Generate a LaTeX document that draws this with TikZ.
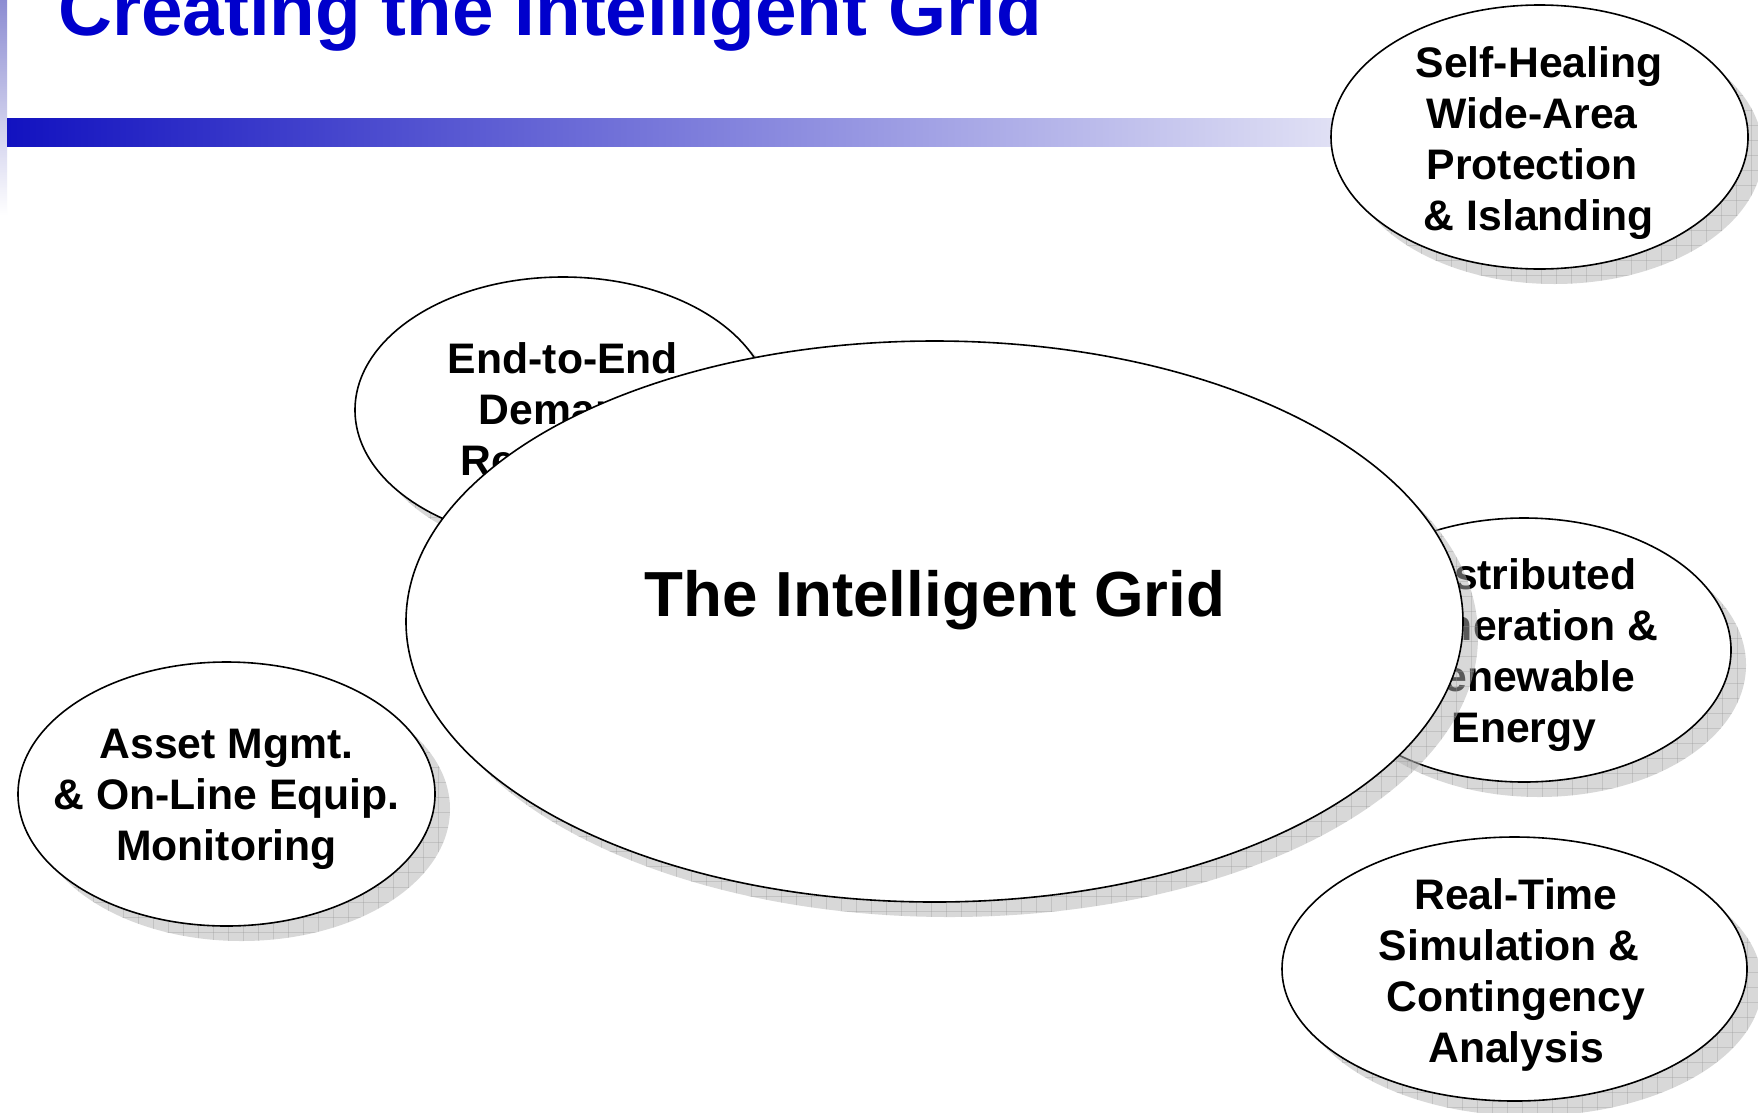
\documentclass[tikz,border=0pt]{standalone}
\usepackage{fontspec}
\setmainfont{Liberation Sans}
\usetikzlibrary{shapes.geometric}
\definecolor{titleblue}{RGB}{0,0,204}
\definecolor{barstart}{RGB}{18,18,192}
\definecolor{barend}{RGB}{238,238,248}
\definecolor{sidetop}{RGB}{140,140,210}
\tikzset{
  bubble/.style={ellipse, draw=black, line width=1.6pt, fill=white, inner sep=0pt},
  bubbletext/.style={align=center, inner sep=0pt, font=\bfseries\fontsize{42.7}{51}\selectfont},
  shadowfill/.style={fill=black!30, fill opacity=0.5},
  shadowgrid/.style={draw=black!40, draw opacity=0.35, line width=0.9pt},
}
\newcommand\trail{\hbox to 13.5pt{}}
\newcommand\mkshadow[4]{%
  \fill[shadowfill] (#1,#2) ellipse [x radius=#3, y radius=#4];
  \begin{scope}
    \clip (#1,#2) ellipse [x radius=#3, y radius=#4];
    \foreach \k in {0,15,...,1080} {
      \draw[shadowgrid] ({#1-#3+\k},{#2-#4}) -- ({#1-#3+\k},{#2+#4});
    }
    \foreach \k in {0,15,...,570} {
      \draw[shadowgrid] ({#1-#3},{#2-#4+\k}) -- ({#1+#3},{#2-#4+\k});
    }
  \end{scope}}
\begin{document}
\begin{tikzpicture}[x=1pt,y=-1pt]
\useasboundingbox (0,0) rectangle (1758,1112);
\clip (0,0) rectangle (1758,1112);
\fill[white] (0,0) rectangle (1758,1112);
% header decorations
\shade[top color=sidetop, bottom color=white] (0,0) rectangle (7,215);
\shade[left color=barstart, right color=barend] (7,118) rectangle (1420,146);
\node[anchor=base west, inner sep=0pt, text=titleblue, font=\bfseries\fontsize{74.7}{80}\selectfont] (title) at (58,35) {Creating the Intelligent Grid};
% Self-Healing
\mkshadow{1554.5}{152}{208.5}{132}
\node[bubble, minimum width=417pt, minimum height=264pt] (sh) at (1539.5,137) {};
\node[bubbletext] (shtext) at (1539,143.5) {\strut Self-Healing\\Wide-Area\trail\\Protection\trail\\\& Islanding\strut};
% Asset
\mkshadow{241.5}{809}{208.5}{132}
\node[bubble, minimum width=417pt, minimum height=264pt] (am) at (226.5,794) {};
\node[bubbletext] (amtext) at (226.5,798.8) {\strut Asset Mgmt.\\\& On-Line Equip.\\Monitoring\strut};
% Real-Time
\mkshadow{1529.5}{984}{232.5}{132}
\node[bubble, minimum width=465pt, minimum height=264pt] (rt) at (1514.5,969) {};
\node[bubbletext] (rttext) at (1516,975.3) {\strut Real-Time\\Simulation \&\trail\\Contingency\\Analysis\strut};
% End-to-End
\mkshadow{578}{425}{208}{133}
\node[bubble, minimum width=416pt, minimum height=266pt] (ee) at (563,410) {};
\node[bubbletext] (eetext) at (563,413.8) {\strut End-to-End\\Demand\\Response\strut};
% Distributed Generation
\mkshadow{1539}{665}{207}{132}
\node[bubble, minimum width=414pt, minimum height=264pt] (dg) at (1524,650) {};
\node[bubbletext] (dgtext) at (1524,655.3) {\strut Distributed\\Generation \&\\Renewable\\Energy\strut};
% Central ellipse
\mkshadow{949.5}{636.5}{528.5}{280.5}
\node[bubble, minimum width=1057pt, minimum height=561pt] (big) at (934.5,621.5) {};
\node[anchor=base, inner sep=0pt, font=\bfseries\fontsize{63.7}{70}\selectfont] (bigtext) at (935,616) {The Intelligent Grid};
\end{tikzpicture}
\end{document}
